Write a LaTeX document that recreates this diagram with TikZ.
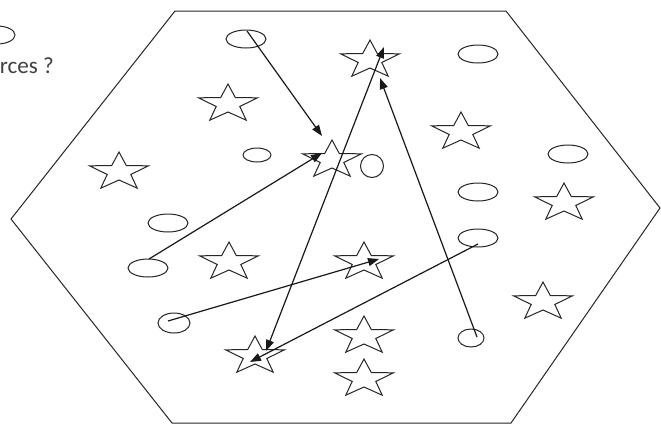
\documentclass[tikz,border=0pt]{standalone}
\usepackage{graphicx}
\usepackage{fontspec}
\setmainfont{Carlito}
\usetikzlibrary{arrows.meta}
\tikzset{
  outline/.style={draw=black!85, line width=1pt},
  oval/.style={outline},
  conn/.style={draw=black!90, line width=1.2pt, -{Triangle[length=11pt,width=8pt]}},
  conn2/.style={draw=black!90, line width=1.2pt, {Triangle[length=11pt,width=8pt]}-{Triangle[length=11pt,width=8pt]}},
  mystar/.pic={
    \draw[outline, xscale=1.55]
      (-90:20) -- (-54:8) -- (-18:20) -- (18:8) -- (54:20) -- (90:8) --
      (126:20) -- (162:8) -- (198:20) -- (234:8) -- cycle;
  }
}
\begin{document}
\begin{tikzpicture}[x=1pt,y=-1pt]
\useasboundingbox (0,0) rectangle (661,424);
\fill[white] (0,0) rectangle (661,424);
% hexagon
\draw[outline] (175,11) -- (506,11) -- (660,208) -- (511,423) -- (172,423) -- (11,219) -- cycle;
% legend fragment
\draw[oval] (-3,35) ellipse [x radius=18, y radius=9];
\node[anchor=base east, text=black!75, inner sep=0pt] (lbl) at (54,73) {\resizebox{54pt}{!}{rces ?}};
% ellipses
\draw[oval] (246,39) ellipse [x radius=20, y radius=9];
\draw[oval] (478,54) ellipse [x radius=20, y radius=9];
\draw[oval] (257,155) ellipse [x radius=14, y radius=7];
\draw[oval] (372,166) ellipse [x radius=11.5, y radius=11.5];
\draw[oval] (568,154) ellipse [x radius=20, y radius=9];
\draw[oval] (478,192) ellipse [x radius=20, y radius=9];
\draw[oval] (478,238) ellipse [x radius=20, y radius=9];
\draw[oval] (471,338) ellipse [x radius=13, y radius=9];
\draw[oval] (168,223) ellipse [x radius=20, y radius=9];
\draw[oval] (148,268) ellipse [x radius=20, y radius=9];
\draw[oval] (174,323) ellipse [x radius=16, y radius=10];
% stars
\pic at (370,60) {mystar};
\pic at (228,104) {mystar};
\pic at (332,160) {mystar};
\pic at (461,132) {mystar};
\pic at (119,172) {mystar};
\pic at (564,203) {mystar};
\pic at (229,262) {mystar};
\pic at (364,262) {mystar};
\pic at (543,302) {mystar};
\pic at (364,336) {mystar};
\pic at (364,379) {mystar};
\pic at (255,356) {mystar};
% connector end points
\coordinate (e1) at (247,31);
\coordinate (t1) at (322,136);
\coordinate (e10) at (149,259);
\coordinate (t2) at (322,153);
\coordinate (b12) at (266,351);
\coordinate (t3) at (384,47);
\coordinate (e11) at (168,321);
\coordinate (t4) at (379,259);
\coordinate (e7) at (478,244);
\coordinate (t5) at (250,362);
\coordinate (e8) at (477,337);
\coordinate (t6) at (380,78);
% connectors
\draw[conn] (e1) -- (t1);
\draw[conn] (e10) -- (t2);
\draw[conn2] (b12) -- (t3);
\draw[conn] (e11) -- (t4);
\draw[conn] (e7) -- (t5);
\draw[conn] (e8) -- (t6);
\end{tikzpicture}
\end{document}
